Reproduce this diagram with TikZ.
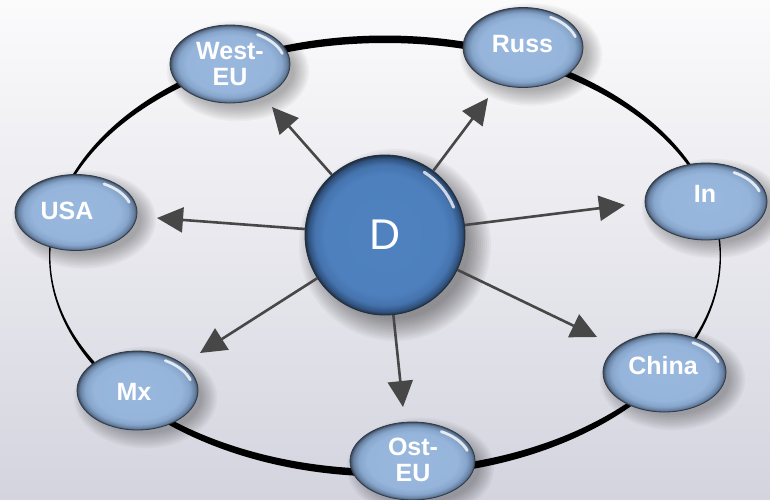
\documentclass[tikz,border=0pt]{standalone}
\usepackage{fontspec}
\setmainfont{Liberation Sans}
\usetikzlibrary{arrows.meta,shapes.geometric}

\definecolor{bgtop}{HTML}{FBFBFC}
\definecolor{bgmid}{HTML}{EBEBF0}
\definecolor{bgbot}{HTML}{D4D4DF}
\definecolor{arrowgrey}{HTML}{474747}
\definecolor{nodeedge}{HTML}{2F3B4A}
\definecolor{coreedge}{HTML}{22303F}

% light blue bubble with a darker bevelled rim
\pgfdeclareradialshading{satball}{\pgfpoint{0bp}{0bp}}{%
  rgb(0bp)=(0.60,0.72,0.87);
  rgb(18bp)=(0.59,0.71,0.86);
  rgb(21.5bp)=(0.53,0.65,0.80);
  rgb(23.8bp)=(0.40,0.50,0.63);
  rgb(25bp)=(0.24,0.29,0.36);
  rgb(50bp)=(0.24,0.29,0.36)}
% saturated blue centre ball
\pgfdeclareradialshading{coreball}{\pgfpoint{0bp}{0bp}}{%
  rgb(0bp)=(0.31,0.51,0.75);
  rgb(19bp)=(0.30,0.50,0.74);
  rgb(22bp)=(0.27,0.45,0.68);
  rgb(24bp)=(0.19,0.32,0.49);
  rgb(25bp)=(0.12,0.18,0.26);
  rgb(50bp)=(0.12,0.18,0.26)}

\tikzset{
  bubblelabel/.style={text=white, align=center, inner sep=0pt,
    font=\fontsize{25}{26}\selectfont\bfseries},
  spoke/.style={draw=arrowgrey, line width=2.6pt,
    -{Triangle[length=26pt,width=25pt]}},
}

% soft shadow, shaded ellipse and a glossy streak
\newcommand\bubble[6]{%
  \foreach \k in {0,...,9}{
    \fill[black, opacity=0.03] (#2+8,#3+7)
      ellipse [x radius={#4-4+1.7*\k}, y radius={#5-4+1.7*\k}];
  }
  \node[ellipse, minimum width={2*#4}, minimum height={2*#5}, inner sep=0pt,
    draw=#6edge, line width=0.8pt, shade, shading=#6ball] (#1) at (#2,#3) {};
  \draw[white, line width=2.8pt, opacity=.8, line cap=round]
    (#1.center) ++(-18:{#4-5} and {#5-5})
    arc[start angle=-18, end angle=-60, x radius={#4-5}, y radius={#5-5}];
}
\colorlet{satedge}{nodeedge}

\begin{document}
\begin{tikzpicture}[x=1pt, y=-1pt]
  % backdrop
  \shade[top color=bgtop, middle color=bgmid, bottom color=bgbot]
    (0,0) rectangle (770,499);
  \useasboundingbox (0,0) rectangle (770,499);

  % the ring linking the partners: heavy at top and bottom, hairline at the sides
  \fill[black, even odd rule]
    (385,256) ellipse [x radius=336, y radius=220.5]
    (385,256) ellipse [x radius=334.6, y radius=213];

  % partner bubbles
  \bubble{westeu}{230}{64}{60}{39}{sat}
  \bubble{russ}{523}{47.5}{60}{40}{sat}
  \bubble{usa}{76}{212.5}{61}{38}{sat}
  \bubble{in}{706}{201.5}{61}{38.5}{sat}
  \bubble{mx}{137.5}{390.5}{60.5}{39.5}{sat}
  \bubble{china}{664.5}{372.5}{61.5}{39.5}{sat}
  \bubble{osteu}{412.5}{461}{62.5}{39}{sat}

  \node[bubblelabel] (westeu-t) at (230,64.5) {West-\\EU};
  \node[bubblelabel] (russ-t) at (522.5,44) {Russ};
  \node[bubblelabel] (usa-t) at (67,211) {USA};
  \node[bubblelabel] (in-t) at (705,194) {In};
  \node[bubblelabel] (mx-t) at (134,392) {Mx};
  \node[bubblelabel] (china-t) at (663,366) {China};
  \node[bubblelabel] (osteu-t) at (413,460) {Ost-\\EU};

  % centre
  \foreach \k in {0,...,11}{
    \fill[black, opacity=0.035] (395,245) circle [radius={74+2*\k}];
  }
  \node[circle, minimum size=160pt, inner sep=0pt, draw=coreedge,
    line width=0.9pt, shade, shading=coreball, text=white,
    font=\fontsize{43}{43}\selectfont] (D) at (385,235) {D};
  \draw[white, line width=3pt, opacity=.75, line cap=round]
    (D.center) ++(-22:74) arc[start angle=-22, end angle=-58, radius=74];

  % arrow tips
  \coordinate (tWest) at (272,107);
  \coordinate (tRuss) at (488,98);
  \coordinate (tIn) at (625,205);
  \coordinate (tChina) at (597,337);
  \coordinate (tOst) at (403,407);
  \coordinate (tMx) at (200,353);
  \coordinate (tUSA) at (157,218);

  \foreach \t in {tWest,tRuss,tIn,tChina,tOst,tMx,tUSA}{
    \draw[spoke] (D) -- (\t);
  }
\end{tikzpicture}
\end{document}
